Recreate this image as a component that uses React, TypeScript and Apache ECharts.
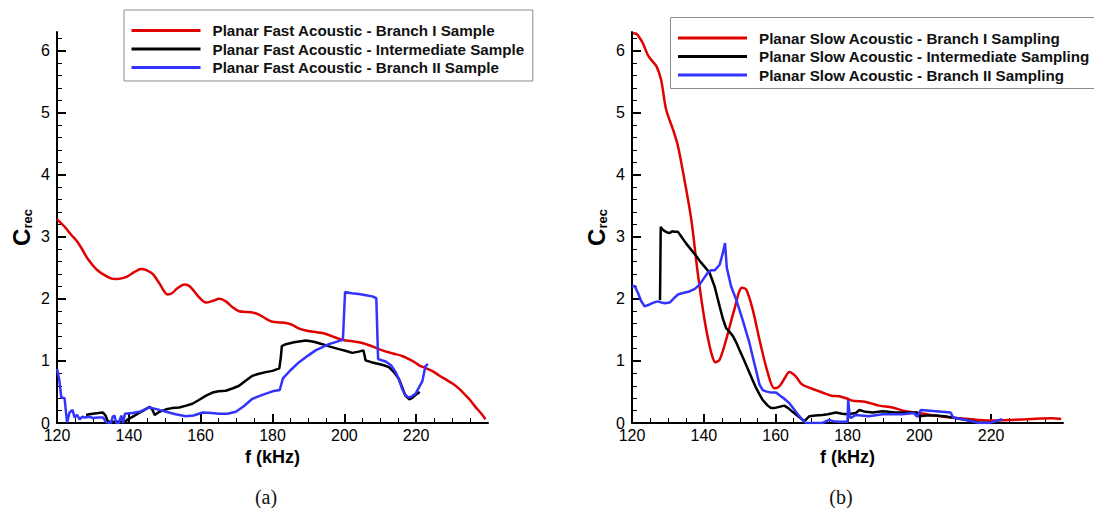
import { useEffect, useRef } from "react";
import * as echarts from "echarts";

type Pt = [number, number];

// Axis ticks and labels
const freqTicks = [120, 140, 160, 180, 200, 220];
const crecTicks = [0, 1, 2, 3, 4, 5, 6];
const captions = ["(a)", "(b)"];

const fastNames = [
  "Planar Fast Acoustic - Branch I Sample",
  "Planar Fast Acoustic - Intermediate Sample",
  "Planar Fast Acoustic - Branch II Sample",
];
const slowNames = [
  "Planar Slow Acoustic - Branch I Sampling",
  "Planar Slow Acoustic - Intermediate Sampling",
  "Planar Slow Acoustic - Branch II Sampling",
];
const seriesColors = ["#e00000", "#000000", "#3333ff"];

// (a) fast acoustic forcing: [f (kHz), C_rec]
const fastBranchI: Pt[] = [
  [120, 3.28], [122, 3.17], [124, 3.03], [125.4, 2.94], [127, 2.8], [128.5, 2.65],
  [130.9, 2.48], [133, 2.39], [135, 2.33], [136.5, 2.32], [138, 2.33], [139.5, 2.36],
  [141.5, 2.43], [143.4, 2.48], [145, 2.46], [146.7, 2.4], [148.5, 2.25], [150.8, 2.07],
  [152, 2.09], [153.5, 2.17], [155.5, 2.23], [157, 2.2], [159.2, 2.05], [161.5, 1.94],
  [163.5, 1.97], [165.2, 2.0], [167, 1.96], [169, 1.86], [170.7, 1.8], [172.5, 1.79],
  [174.4, 1.78], [176.5, 1.74], [178.5, 1.67], [180, 1.63], [182, 1.62], [183.7, 1.61],
  [185.5, 1.58], [187.5, 1.52], [189.3, 1.49], [191.5, 1.47], [193.9, 1.45], [196.5, 1.4],
  [199.4, 1.34], [202, 1.32], [205, 1.29], [208, 1.23], [210.6, 1.17], [213.5, 1.12],
  [216.1, 1.08], [218, 1.03], [219.8, 0.97], [220.8, 0.93], [222.5, 0.89], [224.4, 0.84],
  [226.3, 0.77], [228, 0.71], [230, 0.64], [232, 0.55], [233.7, 0.45], [235, 0.37],
  [236.5, 0.26], [238, 0.16], [239.3, 0.06],
];
const fastIntermediate: Pt[] = [
  [128.1, 0.13], [129, 0.14], [130, 0.15], [131.5, 0.16], [132.8, 0.17], [133.5, 0.12],
  [134.2, 0.02], [139, 0.02], [139.5, 0.05], [141, 0.1], [142.5, 0.15], [144, 0.2],
  [145.8, 0.26], [146.5, 0.22], [147.2, 0.13], [148.5, 0.18], [150.4, 0.22], [152, 0.24],
  [154, 0.25], [156, 0.28], [157.7, 0.31], [159.5, 0.37], [161.5, 0.44], [163.3, 0.49],
  [165, 0.51], [167, 0.52], [169, 0.56], [170.7, 0.6], [172.5, 0.68], [174.4, 0.76],
  [176, 0.79], [178.1, 0.82], [180, 0.84], [181.9, 0.88], [182.3, 1.05], [182.6, 1.24],
  [183.7, 1.27], [186, 1.3], [189.3, 1.33], [191.5, 1.31], [193.9, 1.27], [196, 1.23],
  [198.5, 1.19], [200.5, 1.16], [202.2, 1.13], [204, 1.15], [205.3, 1.17], [205.6, 1.1],
  [205.9, 1.01], [207.5, 0.98], [209.6, 0.95], [211, 0.93], [212.4, 0.9], [213.8, 0.82],
  [215.2, 0.71], [216.2, 0.56], [217, 0.44], [218.1, 0.38], [219, 0.41], [219.8, 0.45],
  [221, 0.5],
];
const fastBranchII: Pt[] = [
  [120, 0.87], [120.6, 0.71], [121.2, 0.41], [122.1, 0.4], [122.8, 0.01], [123.5, 0.17],
  [124.3, 0.21], [124.9, 0.09], [125.6, 0.13], [126.3, 0.06], [127, 0.1], [127.7, 0.09],
  [129, 0.1], [130, 0.08], [131.5, 0.09], [132.8, 0.09], [133.7, 0.01], [135, 0],
  [135.5, 0.1], [136, 0.12], [136.5, 0], [137.2, 0], [137.9, 0.12], [138.4, 0],
  [138.9, 0.15], [141, 0.16], [143, 0.18], [145.7, 0.25], [148, 0.22], [150.4, 0.18],
  [153, 0.14], [155.9, 0.11], [158, 0.12], [160.6, 0.17], [163, 0.16], [165.2, 0.15],
  [167.5, 0.15], [169.8, 0.18], [172, 0.27], [174.4, 0.39], [177, 0.45], [180, 0.51],
  [182, 0.53], [182.9, 0.72], [185, 0.85], [187.4, 0.98], [190, 1.09], [192, 1.17],
  [195.7, 1.27], [199.6, 1.34], [200.2, 2.11], [202, 2.09], [204.1, 2.08], [206, 2.06],
  [207.8, 2.04], [208.9, 2.01], [209.4, 1.03], [211.5, 0.99], [213, 0.93], [214.3, 0.82],
  [215.2, 0.7], [216.1, 0.55], [217, 0.45], [217.9, 0.41], [218.8, 0.43], [219.8, 0.47],
  [221.7, 0.67], [222.6, 0.92], [223.3, 0.95],
];

// (b) slow acoustic forcing: [f (kHz), C_rec]
const slowBranchI: Pt[] = [
  [120.3, 6.28], [121.2, 6.27], [122.2, 6.2], [123.1, 6.11], [124.4, 5.93], [125.5, 5.84],
  [126.8, 5.75], [128.1, 5.53], [129.5, 5.05], [131.4, 4.73], [132.8, 4.46], [134.6, 3.92],
  [136.5, 3.28], [138.3, 2.42], [140.2, 1.66], [141.6, 1.24], [142.5, 1.05], [143.2, 0.98],
  [144.4, 1.02], [146.2, 1.34], [148.5, 1.83], [150.6, 2.18], [151.8, 2.15], [153.6, 1.83],
  [155.5, 1.34], [157.8, 0.81], [159.6, 0.56], [161, 0.59], [162.5, 0.72], [163.8, 0.82],
  [165.6, 0.75], [167, 0.64], [168.4, 0.59], [171.2, 0.53], [174, 0.47], [175.5, 0.44],
  [177.7, 0.43], [180, 0.39], [181.4, 0.36], [185.1, 0.34], [188.8, 0.28], [192.5, 0.25],
  [196.2, 0.19], [199.9, 0.16], [205.5, 0.11], [211, 0.075], [216.6, 0.05], [220.3, 0.04],
  [225.8, 0.05], [231.4, 0.065], [237, 0.075], [239.5, 0.065],
];
const slowIntermediate: Pt[] = [
  [127.8, 1.98], [128, 3.16], [128.5, 3.12], [129.1, 3.09], [129.8, 3.07], [130.5, 3.06],
  [131.2, 3.09], [131.9, 3.08], [132.8, 3.08], [134, 2.98], [135.1, 2.89], [136.5, 2.79],
  [137.9, 2.69], [139, 2.6], [140.2, 2.52], [141.6, 2.42], [143, 2.2], [144.4, 1.88],
  [145.3, 1.68], [146.2, 1.53], [147, 1.48], [148.1, 1.4], [149, 1.3], [149.9, 1.18],
  [151.3, 1.0], [152.7, 0.81], [153.6, 0.69], [154.5, 0.57], [155.5, 0.46], [156.4, 0.37],
  [157.8, 0.28], [158.7, 0.24], [159.6, 0.24], [161, 0.26], [162.4, 0.28], [163.5, 0.24],
  [164.7, 0.18], [166, 0.12], [167.5, 0.05], [168, 0.03], [169.4, 0.11], [171, 0.12],
  [173, 0.13], [174.5, 0.14], [176.8, 0.17], [178.5, 0.15], [180, 0.14], [182.3, 0.16],
  [183.3, 0.21], [185, 0.18], [187, 0.17], [189.7, 0.19], [191.5, 0.18], [193.4, 0.17],
  [196, 0.17], [199.4, 0.17], [199.9, 0.11], [202, 0.12], [204.6, 0.12], [207, 0.11],
  [209.2, 0.09], [212, 0.06], [214.5, 0.03], [216.6, 0.01], [220.3, 0],
];
const slowBranchII: Pt[] = [
  [120, 2.2], [120.7, 2.21], [121.7, 2.09], [122.5, 1.97], [123.5, 1.88], [124.9, 1.91],
  [126, 1.94], [127.2, 1.96], [128.2, 1.94], [129.1, 1.93], [130.5, 1.94], [131.5, 2.0],
  [132.8, 2.07], [134.5, 2.1], [136, 2.12], [137.5, 2.16], [138.8, 2.23], [140, 2.33],
  [141.1, 2.42], [142, 2.46], [143, 2.46], [144.4, 2.55], [145.3, 2.74], [145.9, 2.9],
  [146.4, 2.5], [147, 2.35], [147.6, 2.2], [149, 1.99], [150.8, 1.66], [152.7, 1.29],
  [154.1, 0.95], [154.5, 0.86], [155.5, 0.62], [156.4, 0.53], [157.3, 0.51], [158.7, 0.49],
  [160.1, 0.49], [161, 0.45], [162.4, 0.39], [163.8, 0.32], [165, 0.23], [166.6, 0.11],
  [167.5, 0.05], [168.4, 0], [173, 0], [174.9, 0.05], [176, 0.03], [177.7, 0.02],
  [180, 0.02], [180.2, 0.37], [180.6, 0.12], [180.9, 0.08], [182.3, 0.13], [186, 0.11],
  [189.7, 0.14], [195.3, 0.14], [198.5, 0.16], [199.4, 0.1], [200.4, 0.21], [204.6, 0.19],
  [208.7, 0.17], [209.4, 0.09], [212.9, 0.05], [216.6, 0], [219.4, 0], [223.1, 0.06],
];

const SANS = "'Liberation Sans', Arial, Helvetica, sans-serif";
const SERIF = "'Liberation Serif', 'Times New Roman', serif";

function xAxisFor(gridIndex: number) {
  return {
    type: "value",
    gridIndex,
    min: 120,
    max: 240,
    interval: 20,
    name: "f (kHz)",
    nameLocation: "middle",
    nameGap: 14,
    nameTextStyle: { fontFamily: SANS, fontSize: 18, fontWeight: "bold", color: "#000" },
    axisLine: { show: true, onZero: false, lineStyle: { color: "#000", width: 2 } },
    axisTick: {
      show: true,
      inside: true,
      length: 9,
      customValues: freqTicks,
      lineStyle: { color: "#000", width: 2 },
    },
    minorTick: { show: true, splitNumber: 4, length: 5, lineStyle: { color: "#000", width: 1 } },
    axisLabel: { customValues: freqTicks, margin: 4, fontSize: 16, fontFamily: SANS, color: "#000" },
    splitLine: { show: false },
    minorSplitLine: { show: false },
  };
}

function yAxisFor(gridIndex: number) {
  return {
    type: "value",
    gridIndex,
    min: 0,
    max: 6.3,
    interval: 1,
    name: "{c|C}{r|rec}",
    nameLocation: "middle",
    nameRotate: 90,
    nameGap: 23,
    nameTextStyle: {
      fontFamily: SANS,
      color: "#000",
      rich: {
        c: { fontFamily: SANS, fontSize: 24, fontWeight: "bold", color: "#000", lineHeight: 26 },
        r: {
          fontFamily: SANS,
          fontSize: 13,
          fontWeight: "bold",
          color: "#000",
          lineHeight: 14,
          padding: [12, 0, 0, 0],
        },
      },
    },
    axisLine: { show: true, onZero: false, lineStyle: { color: "#000", width: 2 } },
    axisTick: {
      show: true,
      inside: true,
      length: 9,
      customValues: crecTicks,
      lineStyle: { color: "#000", width: 2 },
    },
    minorTick: { show: true, splitNumber: 5, length: 5, lineStyle: { color: "#000", width: 1 } },
    axisLabel: { customValues: crecTicks, margin: 7, fontSize: 16, fontFamily: SANS, color: "#000" },
    splitLine: { show: false },
    minorSplitLine: { show: false },
  };
}

function lineSeries(name: string, data: Pt[], color: string, grid: number, smooth: number | boolean) {
  return {
    type: "line",
    name,
    xAxisIndex: grid,
    yAxisIndex: grid,
    data,
    smooth,
    symbol: "none",
    showSymbol: false,
    color,
    lineStyle: { color, width: 2.5 },
    emphasis: { disabled: true },
  };
}

function legendFor(left: number, top: number, names: string[]) {
  return {
    orient: "vertical",
    left,
    top,
    data: names,
    icon: "rect",
    itemWidth: 69,
    itemHeight: 3,
    itemGap: 3.5,
    padding: [13, 8, 6, 7.5],
    borderColor: "#8c8c8c",
    borderWidth: 1,
    backgroundColor: "#fff",
    selectedMode: false,
    textStyle: {
      fontFamily: SANS,
      fontSize: 15.2,
      fontWeight: "bold",
      color: "#111",
      lineHeight: 15,
      padding: [0, 0, 0, 7],
    },
  };
}

export default function App() {
  const ref = useRef<HTMLDivElement>(null);

  useEffect(() => {
    if (!ref.current) return;
    const chart = echarts.init(ref.current, undefined, { renderer: "svg" });
    const option = {
      animation: false,
      backgroundColor: "#fff",
      grid: [
        { left: 57, top: 32, width: 431, height: 391 },
        { left: 632, top: 32, width: 431, height: 391 },
      ],
      xAxis: [xAxisFor(0), xAxisFor(1)],
      yAxis: [yAxisFor(0), yAxisFor(1)],
      legend: [legendFor(124, 10, fastNames), legendFor(670.5, 17.5, slowNames)],
      series: [
        lineSeries(fastNames[0], fastBranchI, seriesColors[0], 0, 0.3),
        lineSeries(fastNames[1], fastIntermediate, seriesColors[1], 0, false),
        lineSeries(fastNames[2], fastBranchII, seriesColors[2], 0, false),
        lineSeries(slowNames[0], slowBranchI, seriesColors[0], 1, 0.3),
        lineSeries(slowNames[1], slowIntermediate, seriesColors[1], 1, false),
        lineSeries(slowNames[2], slowBranchII, seriesColors[2], 1, false),
      ],
      graphic: [
        {
          type: "text",
          x: 266,
          y: 497,
          style: {
            text: captions[0],
            align: "center",
            verticalAlign: "middle",
            fontFamily: SERIF,
            fontSize: 20,
            fill: "#111",
          },
        },
        {
          type: "text",
          x: 841,
          y: 497,
          style: {
            text: captions[1],
            align: "center",
            verticalAlign: "middle",
            fontFamily: SERIF,
            fontSize: 20,
            fill: "#111",
          },
        },
      ],
    };
    chart.setOption(option as any);
    return () => chart.dispose();
  }, []);

  return (
    <div
      ref={ref}
      style={{ position: "absolute", left: 0, top: 0, width: 1094, height: 508 }}
    />
  );
}
